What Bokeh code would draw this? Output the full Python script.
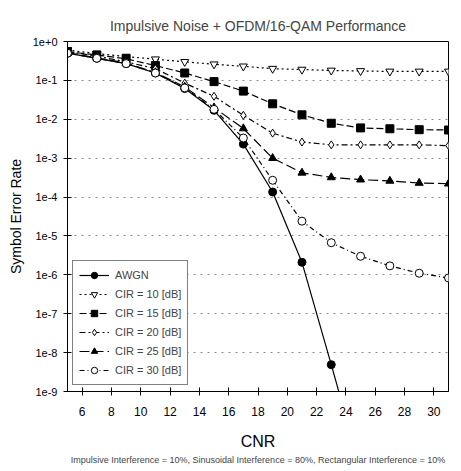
from bokeh.plotting import figure
from bokeh.models import FixedTicker, CustomJSTickFormatter, Legend, LegendItem, Title
from bokeh.embed import file_html
from bokeh.resources import INLINE

cnr = [5, 7, 9, 11, 13, 15, 17, 19, 21, 23, 25, 27, 29, 31]
awgn_x = [5, 7, 9, 11, 13, 15, 17, 19, 21, 23, 25]
awgn = [0.5, 0.37, 0.27, 0.155, 0.062, 0.017, 0.0023, 1.35e-4, 2.1e-6, 4.9e-9, 1e-11]
cir10 = [0.6, 0.49, 0.41, 0.35, 0.30, 0.26, 0.23, 0.20, 0.19, 0.18, 0.175, 0.17, 0.17, 0.17]
cir15 = [0.55, 0.45, 0.36, 0.24, 0.155, 0.093, 0.053, 0.025, 0.013, 0.0079, 0.006, 0.0057, 0.0054, 0.0053]
cir20 = [0.55, 0.42, 0.30, 0.20, 0.085, 0.039, 0.0126, 0.0044, 0.0026, 0.0022, 0.0022, 0.0022, 0.0022, 0.0021]
cir25 = [0.52, 0.38, 0.28, 0.16, 0.068, 0.02, 0.0058, 0.001, 4.2e-4, 3.2e-4, 2.8e-4, 2.6e-4, 2.3e-4, 2.2e-4]
cir30 = [0.5, 0.37, 0.27, 0.155, 0.064, 0.018, 0.0033, 2.7e-4, 2.4e-5, 6.7e-6, 3.0e-6, 1.7e-6, 1.1e-6, 8.3e-7]
x_ticks = [6, 8, 10, 12, 14, 16, 18, 20, 22, 24, 26, 28, 30]
y_ticks = [1e-9, 1e-8, 1e-7, 1e-6, 1e-5, 1e-4, 1e-3, 1e-2, 1e-1, 1e0]

FONT = "Liberation Sans"

p = figure(width=461, height=471, y_axis_type="log", x_range=(5, 31), y_range=(1e-9, 1),
           output_backend="svg", toolbar_location=None,
           min_border_left=67, min_border_right=13, min_border_top=41, min_border_bottom=80)
p.outline_line_color = "black"
p.outline_line_width = 1
p.background_fill_color = "white"

p.title.text = "Impulsive Noise + OFDM/16-QAM Performance"
p.title.align = "center"
p.title.text_font = FONT
p.title.text_font_size = "14px"
p.title.text_font_style = "normal"
p.title.offset = 0
p.title.standoff = 16

p.xaxis.ticker = FixedTicker(ticks=x_ticks)
p.yaxis.ticker = FixedTicker(ticks=y_ticks)
p.yaxis.formatter = CustomJSTickFormatter(code="""
const e = Math.round(Math.log10(tick));
return "1e" + (e >= 0 ? "+" : "") + e;
""")
for ax in (p.xaxis[0], p.yaxis[0]):
    ax.axis_line_color = "black"
    ax.major_tick_line_color = "black"
    ax.minor_tick_line_color = None
    ax.major_tick_in = 4
    ax.major_tick_out = 4
    ax.major_label_text_font = FONT
    ax.major_label_text_color = "black"
    ax.axis_label_text_font = FONT
    ax.axis_label_text_font_style = "normal"
    ax.axis_label_text_color = "black"
p.xaxis.major_label_text_font_size = "12px"
p.xaxis.major_label_standoff = 11
p.yaxis.major_label_text_font_size = "11px"
p.yaxis.major_label_standoff = 6
p.xaxis.axis_label = "CNR"
p.xaxis.axis_label_text_font_size = "16px"
p.xaxis.axis_label_standoff = 14
p.yaxis.axis_label = "Symbol Error Rate"
p.yaxis.axis_label_text_font_size = "14px"
p.yaxis.axis_label_standoff = 6

p.xgrid.grid_line_color = None
p.ygrid.grid_line_color = "#888888"
p.ygrid.grid_line_dash = "2 5"
p.ygrid.grid_line_width = 1

note = Title(text="Impulsive Interference = 10%, Sinusoidal Interference = 80%, Rectangular Interference = 10%",
             align="center", text_font=FONT, text_font_size="9px", text_font_style="normal",
             standoff=0, offset=0)
p.add_layout(note, "below")

items = []
def series(x, y, label, dash, marker, fill):
    r = p.line(x, y, line_color="black", line_width=1.2, line_dash=dash)
    m = p.scatter(x, y, marker=marker, size=8, line_color="black", fill_color=fill, line_width=1)
    items.append(LegendItem(label=label, renderers=[r, m]))

series(awgn_x, awgn, "AWGN", "solid", "circle", "black")
series(cnr, cir10, "CIR = 10 [dB]", "2 3", "inverted_triangle", "white")
series(cnr, cir15, "CIR = 15 [dB]", "7 3", "square", "black")
series(cnr, cir20, "CIR = 20 [dB]", "6 3 2 3", "diamond", "white")
series(cnr, cir25, "CIR = 25 [dB]", "10 4", "triangle", "black")
series(cnr, cir30, "CIR = 30 [dB]", "5 3 1 3", "circle", "white")

legend = Legend(items=items, location=(5, 6), margin=0, padding=6, spacing=3,
                label_text_font=FONT, label_text_font_size="11px", label_height=16,
                glyph_height=16, glyph_width=30, label_standoff=6,
                border_line_color="black", border_line_width=1, background_fill_alpha=1)
p.add_layout(legend, "center")

open("out.html", "w").write(file_html(p, INLINE))
